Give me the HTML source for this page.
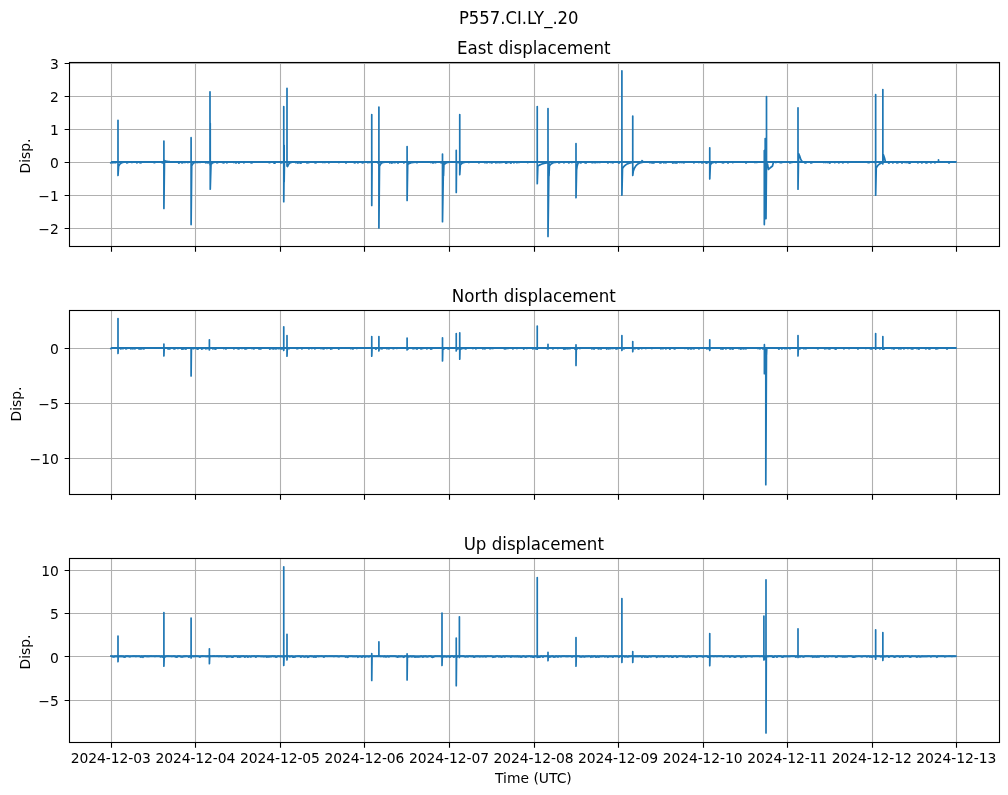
<!DOCTYPE html><html><head><meta charset="utf-8"><title>P557.CI.LY_.20</title><style>html,body{margin:0;padding:0;background:#fff;overflow:hidden}svg{display:block}text{font-family:"DejaVu Sans","Liberation Sans",sans-serif;fill:#000}</style></head><body>
<svg width="1008" height="795" viewBox="0 0 1008 795">
<rect width="1008" height="795" fill="#fff"/>
<text transform="translate(518.75 23.9) scale(0.988 1.08)" font-size="16.667" text-anchor="middle">P557.CI.LY_.20</text>
<path d="M111.5 62.5V246.5M195.5 62.5V246.5M280.5 62.5V246.5M364.5 62.5V246.5M449.5 62.5V246.5M534.5 62.5V246.5M618.5 62.5V246.5M703.5 62.5V246.5M787.5 62.5V246.5M872.5 62.5V246.5M956.5 62.5V246.5M69.5 63.5H999.5M69.5 96.5H999.5M69.5 129.5H999.5M69.5 162.5H999.5M69.5 195.5H999.5M69.5 228.5H999.5" stroke="#b0b0b0" stroke-width="1.11" fill="none"/>
<path d="M111.3 162.0H955.8" stroke="#1f77b4" stroke-width="1.9" fill="none"/>
<path d="M110.90 162.89 111.90 161.87 112.90 162.80 113.90 161.86 114.90 162.75 115.90 162.63 116.90 162.04 118.00 162.00 118.00 120.30 118.01 175.50 118.60 166.50 119.10 165.41 119.60 164.58 120.10 163.96 120.60 163.48 121.10 163.12 121.60 162.85 122.10 162.64 122.60 162.49 123.10 162.37 123.60 162.28 124.10 162.21 124.60 162.16 125.90 162.02 126.90 163.02 127.90 162.57 128.90 161.94 129.90 161.90 130.90 162.04 131.90 162.54 132.90 161.91 133.90 161.98 134.90 162.03 135.90 161.94 136.90 162.84 137.90 162.01 138.90 162.07 139.90 162.75 140.90 162.79 141.90 161.86 142.90 162.08 143.90 162.11 144.90 162.06 145.90 162.02 146.90 162.10 147.90 161.99 148.90 161.87 149.90 162.04 150.90 162.10 151.90 161.97 152.90 161.86 153.90 162.54 154.90 162.65 155.90 161.97 156.90 161.87 157.90 162.01 158.90 162.10 159.90 161.93 160.90 161.96 161.90 162.61 162.90 162.79 163.90 162.00 163.90 141.00 163.91 208.40 164.50 160.50 165.00 160.73 165.50 160.93 166.00 161.09 166.50 161.23 167.00 161.35 167.50 161.45 168.00 161.53 168.50 161.60 169.00 161.67 169.50 161.72 170.00 161.76 170.50 161.80 171.00 161.83 171.50 161.85 172.00 161.88 172.50 161.90 173.90 162.03 174.90 161.85 175.90 161.96 176.90 162.14 177.90 162.00 178.90 163.04 179.90 162.08 180.90 162.09 181.90 162.88 182.90 162.63 183.90 161.90 184.90 162.59 185.90 161.88 186.90 161.86 187.90 162.65 188.90 161.95 189.90 161.89 191.10 162.00 191.10 137.70 191.11 224.60 191.70 166.00 192.20 164.87 192.70 164.05 193.20 163.47 193.70 163.05 194.20 162.76 194.70 162.54 195.20 162.39 195.70 162.28 196.90 162.15 197.90 162.56 198.90 161.95 199.90 162.51 200.90 162.14 201.90 161.89 202.90 161.86 203.90 162.14 204.90 162.06 205.90 162.96 206.90 162.01 207.90 162.99 208.90 162.15 210.00 162.00 210.00 91.85 210.01 165.00 210.25 162.00 210.25 123.30 210.26 189.25 211.00 164.50 211.50 163.79 212.00 163.28 212.50 162.92 213.00 162.66 213.50 162.47 214.00 162.34 214.50 162.24 215.00 162.17 215.90 162.09 216.90 162.81 217.90 162.52 218.90 161.93 219.90 162.06 220.90 161.98 221.90 162.15 222.90 162.64 223.90 162.87 224.90 162.12 225.90 161.99 226.90 162.90 227.90 162.12 228.90 162.08 229.90 161.90 230.90 161.95 231.90 162.14 232.90 161.97 233.90 162.58 234.90 161.90 235.90 163.00 236.90 162.14 237.90 161.96 238.90 163.08 239.90 162.04 240.90 162.13 241.90 162.11 242.90 161.91 243.90 162.85 244.90 161.93 245.90 161.89 246.90 161.96 247.90 162.03 248.90 161.98 249.90 162.00 250.90 162.76 251.90 162.98 252.90 161.90 253.90 162.07 254.90 161.95 255.90 162.02 256.90 161.88 257.90 161.92 258.90 162.08 259.90 162.02 260.90 162.12 261.90 162.03 262.90 162.00 263.90 161.99 264.90 161.99 265.90 162.06 266.90 162.13 267.90 162.02 268.90 162.57 269.90 162.64 270.90 161.87 271.90 162.09 272.90 161.90 273.90 163.03 274.90 163.07 275.90 161.97 276.90 162.15 277.90 161.90 278.90 162.00 279.90 161.91 280.90 162.83 281.90 162.70 282.90 162.04 283.75 162.00 283.75 106.60 283.76 201.75 284.15 162.00 284.15 145.30 284.16 181.80 284.45 162.00 284.90 161.87 285.90 162.09 287.00 162.00 287.00 88.35 287.01 166.00 287.60 166.50 288.10 165.22 288.60 164.31 289.10 163.66 289.60 163.19 290.10 162.85 290.60 162.61 291.10 162.44 291.60 162.31 292.10 162.22 292.60 162.16 293.90 161.88 294.90 161.86 295.90 162.75 296.90 162.12 297.90 163.05 298.90 162.02 299.90 162.91 300.90 163.06 301.90 162.04 302.90 161.88 303.90 161.87 304.90 161.99 305.90 162.02 306.90 162.82 307.90 162.60 308.90 162.69 309.90 161.94 310.90 161.94 311.90 161.90 312.90 161.86 313.90 161.85 314.90 162.78 315.90 162.99 316.90 161.98 317.90 162.10 318.90 162.00 319.90 162.14 320.90 162.10 321.90 162.04 322.90 162.58 323.90 161.87 324.90 162.55 325.90 162.10 326.90 162.05 327.90 161.92 328.90 162.77 329.90 161.93 330.90 162.14 331.90 161.92 332.90 161.94 333.90 161.85 334.90 161.99 335.90 161.91 336.90 161.85 337.90 161.88 338.90 162.68 339.90 161.92 340.90 162.01 341.90 162.05 342.90 162.11 343.90 161.95 344.90 161.89 345.90 163.00 346.90 162.12 347.90 162.07 348.90 161.89 349.90 162.00 350.90 162.09 351.90 162.03 352.90 162.05 353.90 162.58 354.90 163.00 355.90 162.02 356.90 162.04 357.90 162.98 358.90 162.07 359.90 162.01 360.90 161.87 361.90 162.66 362.90 162.94 363.90 162.14 364.90 161.96 365.90 162.06 366.90 162.04 367.90 162.65 368.90 162.07 369.90 162.54 370.90 161.93 371.75 162.00 371.75 114.60 371.76 205.50 372.05 162.00 372.90 162.06 373.90 161.94 374.90 161.99 375.90 161.89 376.90 161.91 377.90 162.78 378.90 162.00 378.90 107.10 378.91 228.00 379.50 166.50 380.00 165.22 380.50 164.31 381.00 163.66 381.50 163.19 382.00 162.85 382.50 162.61 383.00 162.44 383.50 162.31 384.90 162.10 385.90 161.98 386.90 161.91 387.90 161.91 388.90 161.89 389.90 162.99 390.90 162.00 391.90 163.04 392.90 162.50 393.90 162.00 394.90 162.71 395.90 161.94 396.90 161.85 397.90 163.06 398.90 162.06 399.90 161.94 400.90 161.97 401.90 162.03 402.90 161.98 403.90 163.00 404.90 161.94 405.90 161.92 407.10 162.00 407.10 146.60 407.11 200.50 407.70 164.50 408.20 164.12 408.70 163.79 409.20 163.52 409.70 163.28 410.20 163.09 410.70 162.92 411.20 162.78 411.70 162.66 412.20 162.56 412.70 162.47 413.20 162.40 413.70 162.34 414.20 162.29 414.70 162.24 415.20 162.21 415.70 162.17 416.90 162.72 417.90 162.14 418.90 162.09 419.90 162.12 420.90 162.01 421.90 161.86 422.90 161.99 423.90 162.04 424.90 161.86 425.90 161.89 426.90 161.95 427.90 162.07 428.90 161.93 429.90 161.94 430.90 162.60 431.90 161.91 432.90 163.04 433.90 162.15 434.90 162.55 435.90 162.64 436.90 161.93 437.90 162.12 438.90 161.97 439.90 162.01 440.90 162.67 441.90 162.80 442.50 162.00 442.50 154.10 442.51 221.75 443.50 162.00 443.50 162.60 443.51 176.00 443.90 165.00 444.40 164.34 444.90 163.82 445.40 163.42 445.90 163.10 446.40 162.86 446.90 162.67 447.40 162.52 447.90 162.41 448.40 162.32 448.90 162.25 449.40 162.19 449.90 162.15 450.90 162.04 451.90 161.91 452.90 161.92 453.90 161.98 454.90 162.10 456.25 162.00 456.25 150.35 456.26 192.50 456.55 162.00 456.90 162.93 457.90 162.12 458.90 162.73 459.75 162.00 459.75 114.60 459.76 174.75 460.35 165.00 460.85 164.34 461.35 163.82 461.85 163.42 462.35 163.10 462.85 162.86 463.35 162.67 463.85 162.52 464.35 162.41 464.85 162.32 465.35 162.25 465.85 162.19 466.35 162.15 466.90 162.13 467.90 162.11 468.90 162.59 469.90 162.01 470.90 162.13 471.90 162.04 472.90 161.99 473.90 161.86 474.90 161.92 475.90 162.04 476.90 161.89 477.90 162.04 478.90 162.81 479.90 162.02 480.90 161.92 481.90 161.85 482.90 161.99 483.90 162.04 484.90 162.65 485.90 162.14 486.90 162.80 487.90 162.05 488.90 161.93 489.90 162.52 490.90 161.95 491.90 162.98 492.90 162.07 493.90 161.91 494.90 161.94 495.90 162.96 496.90 161.94 497.90 162.63 498.90 161.98 499.90 162.74 500.90 161.91 501.90 162.54 502.90 161.97 503.90 162.12 504.90 162.15 505.90 163.06 506.90 162.90 507.90 161.96 508.90 162.50 509.90 161.93 510.90 163.08 511.90 161.91 512.90 162.10 513.90 162.78 514.90 161.96 515.90 161.91 516.90 162.75 517.90 162.09 518.90 162.54 519.90 162.13 520.90 162.07 521.90 161.95 522.90 162.14 523.90 161.93 524.90 161.94 525.90 161.85 526.90 162.12 527.90 162.64 528.90 161.99 529.90 162.14 530.90 161.93 531.90 162.00 532.90 161.90 533.90 162.07 534.90 162.08 535.90 161.95 537.25 162.00 537.25 106.60 537.26 183.70 537.85 166.00 538.35 165.68 538.85 165.39 539.35 165.12 539.85 164.87 540.35 164.64 540.85 164.43 541.35 164.23 541.85 164.05 542.35 163.89 542.85 163.74 543.35 163.60 543.85 163.47 544.35 163.35 544.85 163.25 545.35 163.15 545.85 163.05 546.35 162.97 546.85 162.89 547.35 162.82 547.85 162.76 548.00 162.00 548.00 108.60 548.01 236.50 549.00 162.00 549.00 162.60 549.01 176.00 549.40 166.00 549.90 165.27 550.40 164.68 550.90 164.20 551.40 163.80 551.90 163.47 552.40 163.20 552.90 162.99 553.40 162.81 553.90 162.66 554.40 162.54 554.90 162.44 555.40 162.36 555.90 162.30 556.40 162.24 556.90 162.20 557.40 162.16 557.90 161.96 558.90 162.95 559.90 162.52 560.90 162.02 561.90 162.14 562.90 162.15 563.90 162.80 564.90 162.06 565.90 161.92 566.90 162.04 567.90 162.07 568.90 163.00 569.90 161.94 570.90 161.96 571.90 162.65 572.90 161.90 573.90 162.02 574.90 161.97 576.00 162.00 576.00 143.60 576.01 197.75 576.60 170.00 577.10 166.28 577.60 164.29 578.10 163.23 578.60 162.66 579.10 162.35 579.60 162.19 580.90 162.99 581.90 162.05 582.90 161.88 583.90 162.10 584.90 162.68 585.90 163.08 586.90 162.02 587.90 161.96 588.90 161.98 589.90 162.08 590.90 161.88 591.90 162.72 592.90 162.65 593.90 162.03 594.90 162.70 595.90 162.69 596.90 161.91 597.90 162.56 598.90 161.97 599.90 162.60 600.90 162.06 601.90 161.93 602.90 162.14 603.90 162.02 604.90 161.97 605.90 162.15 606.90 161.91 607.90 163.04 608.90 161.98 609.90 161.97 610.90 162.51 611.90 162.02 612.90 162.87 613.90 161.96 614.90 161.89 615.90 162.01 616.90 161.88 617.90 162.09 618.90 163.07 619.90 162.14 620.90 161.87 621.90 162.00 621.90 70.85 621.91 195.25 622.50 168.50 623.01 167.71 623.53 167.02 624.04 166.42 624.56 165.88 625.08 165.41 625.59 165.00 626.11 164.64 626.62 164.32 627.13 164.04 627.65 163.79 628.16 163.58 628.68 163.39 629.20 163.22 629.71 163.07 630.23 162.94 630.74 162.83 631.25 162.73 631.77 162.64 632.28 162.56 632.80 162.49 632.75 162.00 632.75 116.10 632.76 175.50 633.35 171.00 633.85 169.62 634.35 168.45 634.85 167.46 635.35 166.62 635.85 165.91 636.35 165.31 636.85 164.80 637.35 164.37 637.85 164.01 638.35 163.70 638.85 163.44 639.35 163.22 639.85 163.03 640.35 162.87 640.85 162.74 641.35 162.63 641.85 162.53 642.35 162.45 642.00 160.60 643.50 162.00 644.90 161.97 645.90 162.04 646.90 161.90 647.90 161.92 648.90 162.10 649.90 162.74 650.90 162.01 651.90 162.93 652.90 162.84 653.90 163.00 654.90 161.89 655.90 162.02 656.90 161.94 657.90 162.02 658.90 162.05 659.90 162.87 660.90 162.96 661.90 162.08 662.90 161.90 663.90 162.76 664.90 161.88 665.90 162.88 666.90 161.87 667.90 162.08 668.90 161.87 669.90 161.96 670.90 161.89 671.90 162.15 672.90 163.09 673.90 162.00 674.90 162.97 675.90 162.71 676.90 163.04 677.90 161.93 678.90 161.89 679.90 162.66 680.90 162.00 681.90 162.60 682.90 162.13 683.90 162.97 684.90 161.88 685.90 162.04 686.90 162.11 687.90 162.02 688.90 161.88 689.90 162.04 690.90 162.09 691.90 162.15 692.90 161.96 693.90 162.95 694.90 161.86 695.90 161.93 696.90 162.15 697.90 162.05 698.90 162.59 699.90 162.03 700.90 162.00 701.90 162.89 702.90 162.71 703.90 161.88 704.90 161.92 705.90 162.87 706.90 163.06 707.90 162.56 708.90 162.04 709.75 162.00 709.75 147.85 709.76 179.00 710.35 165.00 710.85 164.15 711.35 163.54 711.85 163.10 712.35 162.79 712.85 162.57 713.35 162.41 713.85 162.29 714.35 162.21 714.90 162.08 715.90 162.89 716.90 162.02 717.90 162.04 718.90 162.13 719.90 161.92 720.90 161.86 721.90 162.54 722.90 162.83 723.90 162.62 724.90 162.03 725.90 162.04 726.90 161.90 727.90 163.03 728.90 162.08 729.90 161.85 730.90 162.07 731.90 162.07 732.90 162.64 733.90 161.86 734.90 162.07 735.90 162.10 736.90 161.93 737.90 161.98 738.90 162.01 739.90 162.04 740.90 161.92 741.90 161.85 742.90 161.92 743.90 162.13 744.90 161.95 745.90 163.04 746.90 162.04 747.90 162.05 748.90 161.99 749.90 162.06 750.90 161.98 751.90 162.02 752.90 161.91 753.90 161.87 754.90 162.56 755.90 162.13 756.90 162.52 757.90 162.06 758.90 162.06 759.90 161.87 760.90 161.96 761.90 162.10 762.90 161.87 764.30 162.00 764.30 150.60 764.31 224.60 765.20 162.00 765.20 138.60 765.21 218.60 766.00 162.00 766.00 150.60 766.01 218.60 766.50 162.00 766.50 96.60 766.51 165.00 767.50 164.00 768.50 169.50 770.00 168.00 772.50 166.00 773.50 162.00 774.90 162.12 775.90 162.57 776.90 161.86 777.90 162.09 778.90 162.10 779.90 162.56 780.90 162.69 781.90 162.65 782.90 161.93 783.90 161.96 784.90 162.14 785.90 162.11 786.90 161.86 787.90 161.98 788.90 161.95 789.90 163.02 790.90 161.88 791.90 162.62 792.90 162.08 793.90 161.85 794.90 162.00 795.90 161.91 796.90 161.95 798.00 162.00 798.00 107.85 798.01 189.25 798.60 153.50 799.50 155.50 800.80 159.50 802.50 162.00 803.90 161.93 804.90 162.92 805.90 162.88 806.90 161.87 807.90 162.06 808.90 162.04 809.90 161.97 810.90 163.03 811.90 162.66 812.90 162.12 813.90 161.96 814.90 161.92 815.90 162.01 816.90 162.08 817.90 161.95 818.90 161.90 819.90 162.05 820.90 161.90 821.90 162.08 822.90 161.89 823.90 162.61 824.90 161.94 825.90 162.59 826.90 161.92 827.90 162.70 828.90 161.91 829.90 163.08 830.90 161.88 831.90 162.15 832.90 162.07 833.90 161.91 834.90 162.73 835.90 161.86 836.90 162.09 837.90 162.00 838.90 162.86 839.90 161.97 840.90 162.12 841.90 162.02 842.90 162.93 843.90 162.11 844.90 162.06 845.90 162.05 846.90 161.99 847.90 162.75 848.90 162.08 849.90 162.04 850.90 161.98 851.90 162.04 852.90 162.05 853.90 161.90 854.90 162.08 855.90 162.00 856.90 161.86 857.90 161.90 858.90 162.13 859.90 161.88 860.90 162.01 861.90 162.00 862.90 162.10 863.90 161.97 864.90 161.91 865.90 161.97 866.90 161.89 867.90 162.66 868.90 162.75 869.90 161.98 870.90 161.96 871.90 161.92 872.90 162.13 873.90 161.92 874.90 162.58 875.65 162.00 875.65 94.60 875.66 195.25 876.25 168.00 876.78 167.02 877.32 166.20 877.85 165.52 878.38 164.95 878.92 164.47 879.45 164.06 879.98 163.73 880.52 163.45 881.05 163.21 881.58 163.01 882.12 162.85 882.65 162.71 882.85 162.00 882.85 89.60 882.86 164.00 883.40 154.70 884.50 158.00 885.50 162.00 886.90 162.08 887.90 162.04 888.90 163.08 889.90 161.96 890.90 162.10 891.90 161.99 892.90 163.00 893.90 161.96 894.90 161.93 895.90 161.93 896.90 162.93 897.90 162.68 898.90 161.99 899.90 162.04 900.90 161.96 901.90 163.00 902.90 162.12 903.90 161.89 904.90 162.51 905.90 162.14 906.90 162.59 907.90 161.92 908.90 163.04 909.90 163.03 910.90 162.03 911.90 162.05 912.90 162.09 913.90 161.91 914.90 162.01 915.90 161.98 916.90 162.02 917.90 162.80 918.90 161.87 919.90 161.89 920.90 162.00 921.90 163.00 922.90 161.99 923.90 162.05 924.90 161.96 925.90 162.88 926.90 162.87 927.90 162.05 928.90 161.95 929.90 162.00 930.90 162.93 931.90 162.04 932.90 162.11 933.90 161.99 934.90 162.76 935.90 161.98 936.90 162.10 937.90 162.10 938.50 162.00 938.50 159.85 938.51 162.00 938.80 162.00 939.90 162.00 940.90 162.00 941.90 162.05 942.90 161.95 943.90 161.94 944.90 162.04 945.90 161.86 946.90 162.12 947.90 161.86 948.90 163.05 949.90 162.03 950.90 162.09 951.90 162.03 952.90 162.04 953.90 162.03 954.90 161.91 955.90 161.99" stroke="#1f77b4" stroke-width="1.7" fill="none" stroke-linejoin="round" stroke-linecap="square"/>
<rect x="69.5" y="62.5" width="930.0" height="184.0" fill="none" stroke="#000" stroke-width="1.11"/>
<path d="M111.5 246.5V251.7M195.5 246.5V251.7M280.5 246.5V251.7M364.5 246.5V251.7M449.5 246.5V251.7M534.5 246.5V251.7M618.5 246.5V251.7M703.5 246.5V251.7M787.5 246.5V251.7M872.5 246.5V251.7M956.5 246.5V251.7M69.5 63.5H64.64M69.5 96.5H64.64M69.5 129.5H64.64M69.5 162.5H64.64M69.5 195.5H64.64M69.5 228.5H64.64" stroke="#000" stroke-width="1.11" fill="none"/>
<text x="58.8" y="69.00" font-size="13.889" text-anchor="end">3</text>
<text x="58.8" y="102.00" font-size="13.889" text-anchor="end">2</text>
<text x="58.8" y="135.00" font-size="13.889" text-anchor="end">1</text>
<text x="58.8" y="168.00" font-size="13.889" text-anchor="end">0</text>
<text x="58.8" y="201.00" font-size="13.889" text-anchor="end">−1</text>
<text x="58.8" y="234.00" font-size="13.889" text-anchor="end">−2</text>
<text transform="translate(533.8 54.25) scale(1 1.08)" font-size="16.667" text-anchor="middle">East displacement</text>
<text transform="translate(30.3 156.0) rotate(-90)" font-size="13.889" text-anchor="middle">Disp.</text>
<path d="M111.5 310.5V494.5M195.5 310.5V494.5M280.5 310.5V494.5M364.5 310.5V494.5M449.5 310.5V494.5M534.5 310.5V494.5M618.5 310.5V494.5M703.5 310.5V494.5M787.5 310.5V494.5M872.5 310.5V494.5M956.5 310.5V494.5M69.5 348.5H999.5M69.5 403.5H999.5M69.5 458.5H999.5" stroke="#b0b0b0" stroke-width="1.11" fill="none"/>
<path d="M111.3 348.0H955.8" stroke="#1f77b4" stroke-width="1.9" fill="none"/>
<path d="M110.90 348.52 111.90 348.08 112.90 348.05 113.90 348.10 114.90 348.02 115.90 347.94 116.90 347.95 118.00 348.00 118.00 318.60 118.01 353.50 118.30 348.00 118.90 348.04 119.90 347.87 120.90 348.99 121.90 348.02 122.90 348.73 123.90 348.03 124.90 348.14 125.90 348.89 126.90 348.51 127.90 347.85 128.90 347.89 129.90 347.88 130.90 348.93 131.90 347.92 132.90 348.96 133.90 348.06 134.90 348.88 135.90 348.06 136.90 348.13 137.90 348.14 138.90 348.89 139.90 348.69 140.90 349.02 141.90 348.72 142.90 348.02 143.90 348.98 144.90 347.96 145.90 348.04 146.90 347.97 147.90 348.13 148.90 348.02 149.90 347.87 150.90 348.06 151.90 347.95 152.90 348.14 153.90 348.03 154.90 347.98 155.90 347.96 156.90 348.03 157.90 348.09 158.90 347.85 159.90 347.98 160.90 348.09 161.90 347.86 162.90 348.09 163.90 348.00 163.90 344.10 163.91 356.00 164.20 348.00 164.90 348.02 165.90 348.11 166.90 348.06 167.90 348.83 168.90 348.95 169.90 348.86 170.90 348.05 171.90 347.91 172.90 348.08 173.90 348.98 174.90 348.85 175.90 348.12 176.90 348.01 177.90 348.62 178.90 347.90 179.90 347.96 180.90 347.97 181.90 349.10 182.90 348.88 183.90 348.86 184.90 347.95 185.90 349.09 186.90 348.11 187.90 348.02 188.90 348.08 189.90 348.13 191.10 348.00 191.10 348.60 191.11 376.00 191.40 348.00 191.90 348.10 192.90 348.62 193.90 348.53 194.90 348.02 195.90 347.99 196.90 348.86 197.90 349.08 198.90 347.93 199.90 348.04 200.90 348.05 201.90 349.08 202.90 348.52 203.90 347.93 204.90 348.12 205.90 348.97 206.90 348.06 207.90 348.59 208.90 348.08 209.40 348.00 209.40 339.85 209.41 350.00 209.70 348.00 209.90 348.05 210.90 348.03 211.90 347.88 212.90 348.79 213.90 348.59 214.90 348.93 215.90 349.06 216.90 347.92 217.90 348.11 218.90 347.89 219.90 347.88 220.90 348.10 221.90 347.99 222.90 348.10 223.90 348.63 224.90 347.87 225.90 349.02 226.90 347.93 227.90 347.90 228.90 348.10 229.90 347.90 230.90 347.95 231.90 347.88 232.90 347.87 233.90 348.79 234.90 347.94 235.90 347.91 236.90 348.15 237.90 348.67 238.90 348.94 239.90 347.94 240.90 347.85 241.90 348.50 242.90 348.10 243.90 347.91 244.90 348.84 245.90 348.96 246.90 348.55 247.90 347.88 248.90 348.00 249.90 347.91 250.90 348.06 251.90 348.54 252.90 348.07 253.90 348.99 254.90 347.95 255.90 348.11 256.90 347.85 257.90 347.99 258.90 349.00 259.90 348.72 260.90 348.81 261.90 347.98 262.90 347.89 263.90 348.09 264.90 347.95 265.90 347.96 266.90 347.87 267.90 348.14 268.90 348.00 269.90 349.08 270.90 348.56 271.90 347.93 272.90 348.92 273.90 348.86 274.90 348.02 275.90 349.02 276.90 348.57 277.90 348.00 278.90 348.74 279.90 347.89 280.90 348.84 281.90 349.00 282.90 348.13 283.75 348.00 283.75 326.85 283.76 350.50 284.05 348.00 284.90 347.98 285.90 348.01 287.00 348.00 287.00 335.60 287.01 356.25 287.30 348.00 287.90 348.13 288.90 348.70 289.90 347.98 290.90 348.09 291.90 348.09 292.90 347.87 293.90 348.14 294.90 347.92 295.90 348.04 296.90 348.76 297.90 348.58 298.90 348.14 299.90 348.13 300.90 348.09 301.90 348.88 302.90 347.93 303.90 347.93 304.90 348.13 305.90 347.93 306.90 347.98 307.90 347.94 308.90 348.86 309.90 348.14 310.90 347.93 311.90 348.57 312.90 347.89 313.90 347.97 314.90 348.83 315.90 348.10 316.90 348.02 317.90 347.91 318.90 347.99 319.90 348.03 320.90 348.63 321.90 348.00 322.90 348.71 323.90 348.83 324.90 348.00 325.90 348.15 326.90 348.54 327.90 348.11 328.90 347.87 329.90 347.98 330.90 349.08 331.90 348.70 332.90 347.96 333.90 348.03 334.90 348.10 335.90 348.07 336.90 348.08 337.90 348.09 338.90 349.02 339.90 347.85 340.90 348.03 341.90 348.14 342.90 347.98 343.90 348.11 344.90 347.96 345.90 347.99 346.90 347.94 347.90 348.02 348.90 347.95 349.90 348.10 350.90 348.68 351.90 347.89 352.90 349.05 353.90 347.95 354.90 348.10 355.90 347.91 356.90 348.53 357.90 348.02 358.90 348.13 359.90 348.01 360.90 348.01 361.90 348.06 362.90 347.96 363.90 347.96 364.90 348.05 365.90 347.88 366.90 347.97 367.90 348.02 368.90 348.14 369.90 347.98 370.90 348.15 371.75 348.00 371.75 336.60 371.76 356.25 372.05 348.00 372.90 348.01 373.90 347.90 374.90 348.14 375.90 349.04 376.90 348.06 377.90 348.15 378.90 348.00 378.90 336.60 378.91 351.00 379.20 348.00 379.90 348.67 380.90 348.00 381.90 348.88 382.90 348.03 383.90 348.15 384.90 347.86 385.90 348.09 386.90 348.68 387.90 348.10 388.90 348.80 389.90 348.02 390.90 348.04 391.90 348.15 392.90 348.59 393.90 348.56 394.90 347.90 395.90 348.10 396.90 348.51 397.90 348.08 398.90 348.06 399.90 347.90 400.90 347.88 401.90 348.02 402.90 347.98 403.90 347.87 404.90 348.02 405.90 347.98 407.10 348.00 407.10 338.10 407.11 350.00 407.40 348.00 407.90 349.06 408.90 348.11 409.90 348.12 410.90 347.94 411.90 348.14 412.90 348.73 413.90 348.69 414.90 348.11 415.90 348.60 416.90 349.08 417.90 347.94 418.90 347.88 419.90 347.97 420.90 349.00 421.90 348.61 422.90 348.52 423.90 348.05 424.90 347.90 425.90 347.88 426.90 348.77 427.90 348.10 428.90 347.90 429.90 348.07 430.90 349.07 431.90 348.77 432.90 347.89 433.90 347.93 434.90 348.03 435.90 347.92 436.90 347.91 437.90 347.89 438.90 348.01 439.90 348.08 440.90 348.05 441.90 347.94 442.50 348.00 442.50 337.85 442.51 361.00 442.80 348.00 443.90 349.01 444.90 347.95 445.90 347.88 446.90 347.96 447.90 348.69 448.90 348.93 449.90 347.93 450.90 348.12 451.90 348.11 452.90 347.89 453.90 347.86 454.90 348.05 456.25 348.00 456.25 333.60 456.26 351.00 456.55 348.00 456.90 347.97 457.90 349.01 458.90 347.96 459.75 348.00 459.75 332.85 459.76 359.25 460.05 348.00 460.90 349.05 461.90 348.07 462.90 348.60 463.90 347.91 464.90 348.69 465.90 349.00 466.90 348.02 467.90 347.93 468.90 348.06 469.90 347.85 470.90 348.08 471.90 347.86 472.90 348.65 473.90 347.88 474.90 347.91 475.90 348.92 476.90 347.97 477.90 348.10 478.90 347.88 479.90 347.98 480.90 348.06 481.90 348.10 482.90 348.92 483.90 347.98 484.90 348.96 485.90 347.86 486.90 348.09 487.90 348.01 488.90 348.04 489.90 348.71 490.90 348.69 491.90 347.89 492.90 348.65 493.90 348.00 494.90 348.13 495.90 347.94 496.90 347.89 497.90 347.95 498.90 348.01 499.90 347.90 500.90 348.03 501.90 348.08 502.90 347.88 503.90 348.54 504.90 348.92 505.90 348.69 506.90 347.99 507.90 348.51 508.90 348.15 509.90 347.88 510.90 348.14 511.90 347.88 512.90 348.83 513.90 347.85 514.90 348.04 515.90 348.13 516.90 348.58 517.90 347.86 518.90 348.10 519.90 347.91 520.90 348.10 521.90 347.90 522.90 348.10 523.90 349.00 524.90 347.95 525.90 348.02 526.90 348.52 527.90 348.02 528.90 348.10 529.90 348.12 530.90 348.00 531.90 347.90 532.90 348.91 533.90 347.90 534.90 348.52 535.90 348.93 537.25 348.00 537.25 326.10 537.26 349.25 537.55 348.00 537.90 347.85 538.90 348.11 539.90 347.98 540.90 348.05 541.90 347.98 542.90 347.98 543.90 348.10 544.90 347.90 545.90 347.98 546.90 348.55 548.00 348.00 548.00 344.35 548.01 349.00 548.30 348.00 548.90 347.95 549.90 348.14 550.90 348.11 551.90 348.14 552.90 348.91 553.90 348.03 554.90 348.02 555.90 347.99 556.90 347.94 557.90 348.61 558.90 348.05 559.90 347.88 560.90 347.96 561.90 347.97 562.90 348.02 563.90 349.03 564.90 349.02 565.90 348.82 566.90 347.93 567.90 348.84 568.90 347.88 569.90 348.74 570.90 347.87 571.90 348.11 572.90 348.06 573.90 347.88 574.90 349.00 576.00 348.00 576.00 344.85 576.01 365.50 576.30 348.00 576.90 349.08 577.90 348.02 578.90 347.89 579.90 348.72 580.90 347.85 581.90 347.91 582.90 348.06 583.90 348.12 584.90 348.11 585.90 348.13 586.90 347.90 587.90 347.95 588.90 348.05 589.90 347.89 590.90 348.07 591.90 348.86 592.90 347.88 593.90 349.06 594.90 348.05 595.90 347.91 596.90 348.10 597.90 348.57 598.90 348.83 599.90 347.94 600.90 349.03 601.90 348.01 602.90 348.09 603.90 347.85 604.90 347.90 605.90 348.11 606.90 348.99 607.90 348.05 608.90 349.01 609.90 347.97 610.90 348.70 611.90 347.91 612.90 348.60 613.90 347.96 614.90 348.02 615.90 348.85 616.90 348.78 617.90 348.59 618.90 348.05 619.90 347.93 620.90 347.93 621.90 348.00 621.90 335.60 621.91 350.50 622.20 348.00 622.90 348.01 623.90 348.84 624.90 348.08 625.90 348.08 626.90 348.04 627.90 347.93 628.90 348.11 629.90 348.05 630.90 348.08 631.90 348.00 632.75 348.00 632.75 341.60 632.76 351.75 633.05 348.00 633.90 347.96 634.90 348.70 635.90 347.95 636.90 347.99 637.90 348.71 638.90 349.02 639.90 347.99 640.90 348.02 641.90 348.68 642.90 347.94 643.90 348.02 644.90 347.95 645.90 348.61 646.90 348.02 647.90 347.96 648.90 347.98 649.90 347.87 650.90 348.12 651.90 348.60 652.90 347.93 653.90 347.92 654.90 347.91 655.90 348.11 656.90 347.91 657.90 348.14 658.90 347.87 659.90 348.11 660.90 348.82 661.90 348.11 662.90 348.70 663.90 348.07 664.90 347.97 665.90 348.75 666.90 347.86 667.90 347.95 668.90 348.03 669.90 349.06 670.90 348.02 671.90 347.87 672.90 348.07 673.90 348.59 674.90 348.99 675.90 347.98 676.90 348.03 677.90 348.05 678.90 347.95 679.90 347.93 680.90 348.08 681.90 347.94 682.90 348.14 683.90 347.93 684.90 348.51 685.90 347.99 686.90 348.08 687.90 348.95 688.90 348.58 689.90 347.87 690.90 349.06 691.90 348.61 692.90 348.07 693.90 348.97 694.90 347.92 695.90 348.00 696.90 347.95 697.90 347.99 698.90 348.94 699.90 347.87 700.90 347.97 701.90 347.87 702.90 347.97 703.90 348.13 704.90 347.92 705.90 347.93 706.90 348.96 707.90 348.04 708.90 348.84 709.75 348.00 709.75 339.85 709.76 350.50 710.05 348.00 710.90 347.90 711.90 348.11 712.90 348.08 713.90 347.93 714.90 348.00 715.90 347.90 716.90 348.03 717.90 348.02 718.90 347.91 719.90 347.96 720.90 349.02 721.90 348.15 722.90 349.08 723.90 347.85 724.90 347.90 725.90 348.91 726.90 347.88 727.90 348.13 728.90 348.11 729.90 348.98 730.90 348.80 731.90 347.92 732.90 349.09 733.90 347.94 734.90 347.89 735.90 347.89 736.90 347.90 737.90 347.89 738.90 348.71 739.90 348.00 740.90 349.08 741.90 348.11 742.90 348.66 743.90 348.81 744.90 347.97 745.90 348.91 746.90 348.05 747.90 348.01 748.90 348.14 749.90 348.07 750.90 347.95 751.90 348.14 752.90 347.97 753.90 347.89 754.90 347.85 755.90 348.13 756.90 348.03 757.90 348.57 758.90 348.10 759.90 348.92 760.90 347.95 761.90 348.01 762.90 348.95 763.90 348.11 764.40 348.00 764.40 344.70 764.41 373.70 765.00 348.00 765.00 348.60 765.01 373.50 765.80 348.00 765.80 348.60 765.81 484.75 766.50 348.00 766.50 348.60 766.51 355.00 766.80 348.00 767.90 348.03 768.90 347.92 769.90 348.07 770.90 348.06 771.90 348.01 772.90 348.05 773.90 348.04 774.90 347.92 775.90 347.93 776.90 347.99 777.90 348.01 778.90 349.06 779.90 348.01 780.90 348.01 781.90 348.99 782.90 347.99 783.90 348.10 784.90 348.73 785.90 348.10 786.90 348.65 787.90 347.88 788.90 348.09 789.90 348.74 790.90 348.15 791.90 347.98 792.90 348.09 793.90 347.89 794.90 347.96 795.90 347.92 796.90 347.95 798.00 348.00 798.00 335.60 798.01 356.00 798.30 348.00 798.90 348.84 799.90 348.93 800.90 347.93 801.90 347.92 802.90 347.88 803.90 348.75 804.90 348.09 805.90 348.77 806.90 347.96 807.90 347.94 808.90 348.04 809.90 347.96 810.90 348.02 811.90 347.91 812.90 348.06 813.90 348.05 814.90 347.87 815.90 347.96 816.90 348.00 817.90 348.86 818.90 347.99 819.90 348.10 820.90 347.99 821.90 347.98 822.90 348.00 823.90 348.05 824.90 348.91 825.90 348.02 826.90 348.63 827.90 347.87 828.90 348.95 829.90 348.91 830.90 348.06 831.90 347.87 832.90 347.98 833.90 348.15 834.90 348.70 835.90 349.09 836.90 347.93 837.90 347.94 838.90 348.11 839.90 348.00 840.90 347.87 841.90 348.11 842.90 348.11 843.90 348.82 844.90 347.96 845.90 348.00 846.90 347.96 847.90 347.91 848.90 348.69 849.90 348.01 850.90 348.02 851.90 347.93 852.90 347.94 853.90 348.09 854.90 347.99 855.90 347.98 856.90 347.87 857.90 349.02 858.90 347.87 859.90 347.90 860.90 348.02 861.90 348.00 862.90 348.05 863.90 347.91 864.90 347.89 865.90 348.56 866.90 348.09 867.90 347.97 868.90 347.93 869.90 348.53 870.90 349.00 871.90 348.85 872.90 347.95 873.90 347.90 874.90 347.95 875.65 348.00 875.65 333.60 875.66 349.25 875.95 348.00 876.90 347.90 877.90 348.14 878.90 347.86 879.90 348.83 880.90 347.88 881.90 348.07 882.85 348.00 882.85 336.60 882.86 349.25 883.15 348.00 883.90 349.00 884.90 347.89 885.90 348.15 886.90 348.01 887.90 347.95 888.90 348.00 889.90 347.88 890.90 348.11 891.90 348.58 892.90 347.93 893.90 349.05 894.90 347.86 895.90 348.14 896.90 348.13 897.90 347.87 898.90 348.95 899.90 347.90 900.90 348.84 901.90 347.88 902.90 348.09 903.90 348.81 904.90 347.88 905.90 347.89 906.90 347.96 907.90 348.60 908.90 348.13 909.90 348.10 910.90 348.56 911.90 348.80 912.90 348.78 913.90 347.90 914.90 348.00 915.90 347.91 916.90 348.64 917.90 348.11 918.90 349.07 919.90 348.00 920.90 348.02 921.90 347.92 922.90 347.90 923.90 347.86 924.90 348.01 925.90 348.85 926.90 347.92 927.90 348.09 928.90 348.86 929.90 348.87 930.90 348.06 931.90 347.95 932.90 347.99 933.90 347.85 934.90 347.97 935.90 348.94 936.90 348.71 937.90 348.63 938.90 347.95 939.90 348.15 940.90 347.99 941.90 348.08 942.90 348.08 943.90 347.91 944.90 348.10 945.90 347.88 946.90 349.08 947.90 348.05 948.90 347.89 949.90 348.13 950.90 348.07 951.90 348.09 952.90 347.98 953.90 348.09 954.90 347.94 955.90 348.01" stroke="#1f77b4" stroke-width="1.7" fill="none" stroke-linejoin="round" stroke-linecap="square"/>
<rect x="69.5" y="310.5" width="930.0" height="184.0" fill="none" stroke="#000" stroke-width="1.11"/>
<path d="M111.5 494.5V499.7M195.5 494.5V499.7M280.5 494.5V499.7M364.5 494.5V499.7M449.5 494.5V499.7M534.5 494.5V499.7M618.5 494.5V499.7M703.5 494.5V499.7M787.5 494.5V499.7M872.5 494.5V499.7M956.5 494.5V499.7M69.5 348.5H64.64M69.5 403.5H64.64M69.5 458.5H64.64" stroke="#000" stroke-width="1.11" fill="none"/>
<text x="58.8" y="354.00" font-size="13.889" text-anchor="end">0</text>
<text x="58.8" y="409.00" font-size="13.889" text-anchor="end">−5</text>
<text x="58.8" y="464.00" font-size="13.889" text-anchor="end">−10</text>
<text transform="translate(533.8 302.25) scale(1 1.08)" font-size="16.667" text-anchor="middle">North displacement</text>
<text transform="translate(20.6 404.0) rotate(-90)" font-size="13.889" text-anchor="middle">Disp.</text>
<path d="M111.5 558.5V742.5M195.5 558.5V742.5M280.5 558.5V742.5M364.5 558.5V742.5M449.5 558.5V742.5M534.5 558.5V742.5M618.5 558.5V742.5M703.5 558.5V742.5M787.5 558.5V742.5M872.5 558.5V742.5M956.5 558.5V742.5M69.5 570.5H999.5M69.5 613.5H999.5M69.5 656.5H999.5M69.5 700.5H999.5" stroke="#b0b0b0" stroke-width="1.11" fill="none"/>
<path d="M111.3 656.2H955.8" stroke="#1f77b4" stroke-width="1.9" fill="none"/>
<path d="M110.90 656.08 111.90 656.29 112.90 656.82 113.90 657.00 114.90 656.32 115.90 656.26 116.90 656.29 118.00 656.20 118.00 636.10 118.01 661.75 118.30 656.20 118.90 656.25 119.90 656.30 120.90 656.08 121.90 656.30 122.90 656.23 123.90 656.99 124.90 657.19 125.90 656.18 126.90 656.19 127.90 656.11 128.90 656.30 129.90 656.86 130.90 656.26 131.90 656.25 132.90 656.09 133.90 656.06 134.90 656.11 135.90 656.34 136.90 656.12 137.90 656.23 138.90 656.17 139.90 656.34 140.90 657.20 141.90 656.10 142.90 657.27 143.90 656.19 144.90 656.13 145.90 656.08 146.90 656.31 147.90 656.16 148.90 656.32 149.90 656.07 150.90 656.18 151.90 656.16 152.90 656.24 153.90 656.21 154.90 656.32 155.90 656.16 156.90 656.07 157.90 656.26 158.90 656.18 159.90 656.32 160.90 656.90 161.90 656.09 162.90 657.05 163.90 656.20 163.90 612.60 163.91 666.25 164.20 656.20 164.90 656.94 165.90 656.27 166.90 656.13 167.90 656.14 168.90 656.18 169.90 656.24 170.90 656.25 171.90 656.34 172.90 656.26 173.90 656.10 174.90 656.30 175.90 657.01 176.90 657.14 177.90 656.10 178.90 656.07 179.90 656.16 180.90 656.89 181.90 656.89 182.90 656.86 183.90 656.17 184.90 656.34 185.90 656.11 186.90 656.19 187.90 656.24 188.90 657.15 189.90 656.19 191.10 656.20 191.10 618.10 191.11 658.00 191.40 656.20 191.90 656.25 192.90 656.13 193.90 656.33 194.90 656.14 195.90 656.13 196.90 656.06 197.90 656.22 198.90 656.33 199.90 657.03 200.90 656.28 201.90 656.17 202.90 656.08 203.90 656.24 204.90 656.24 205.90 656.28 206.90 656.33 207.90 656.15 208.90 656.29 209.40 656.20 209.40 648.85 209.41 663.75 209.70 656.20 209.90 656.11 210.90 656.21 211.90 656.25 212.90 656.09 213.90 656.07 214.90 656.20 215.90 656.25 216.90 656.17 217.90 656.13 218.90 656.29 219.90 656.10 220.90 656.28 221.90 656.32 222.90 656.27 223.90 656.24 224.90 656.09 225.90 656.26 226.90 657.06 227.90 656.30 228.90 656.76 229.90 656.25 230.90 656.29 231.90 657.20 232.90 657.08 233.90 656.09 234.90 656.07 235.90 656.22 236.90 656.06 237.90 657.08 238.90 656.15 239.90 657.18 240.90 656.11 241.90 656.29 242.90 656.06 243.90 656.06 244.90 657.08 245.90 656.27 246.90 656.17 247.90 657.22 248.90 656.35 249.90 656.34 250.90 656.99 251.90 656.09 252.90 656.25 253.90 656.19 254.90 656.11 255.90 657.14 256.90 656.20 257.90 656.11 258.90 656.11 259.90 656.22 260.90 656.34 261.90 656.33 262.90 656.27 263.90 656.71 264.90 656.31 265.90 656.24 266.90 657.08 267.90 656.35 268.90 656.91 269.90 656.32 270.90 656.76 271.90 656.10 272.90 656.19 273.90 656.32 274.90 656.19 275.90 657.04 276.90 656.85 277.90 656.06 278.90 656.26 279.90 656.34 280.90 656.27 281.90 656.29 282.90 656.83 283.75 656.20 283.75 566.85 283.76 665.50 284.05 656.20 284.90 656.23 285.90 656.05 287.00 656.20 287.00 634.35 287.01 660.00 287.30 656.20 287.90 656.29 288.90 656.06 289.90 656.89 290.90 656.24 291.90 656.20 292.90 657.24 293.90 657.05 294.90 656.97 295.90 656.23 296.90 656.26 297.90 656.07 298.90 656.07 299.90 656.17 300.90 657.09 301.90 656.26 302.90 656.09 303.90 656.84 304.90 656.94 305.90 656.29 306.90 656.24 307.90 657.29 308.90 656.73 309.90 656.12 310.90 656.12 311.90 656.33 312.90 656.33 313.90 657.15 314.90 656.08 315.90 657.18 316.90 656.10 317.90 656.08 318.90 656.32 319.90 656.05 320.90 656.22 321.90 656.20 322.90 656.23 323.90 657.03 324.90 656.14 325.90 656.05 326.90 656.06 327.90 656.29 328.90 656.09 329.90 656.11 330.90 656.08 331.90 656.21 332.90 656.08 333.90 656.30 334.90 656.08 335.90 656.14 336.90 656.09 337.90 656.34 338.90 656.77 339.90 656.26 340.90 656.21 341.90 656.17 342.90 656.24 343.90 656.27 344.90 656.32 345.90 657.11 346.90 656.30 347.90 657.27 348.90 656.18 349.90 656.13 350.90 656.15 351.90 656.08 352.90 656.34 353.90 656.33 354.90 656.30 355.90 656.28 356.90 656.12 357.90 657.23 358.90 656.33 359.90 656.28 360.90 656.32 361.90 657.20 362.90 656.14 363.90 656.16 364.90 657.02 365.90 656.24 366.90 656.33 367.90 656.32 368.90 656.83 369.90 656.14 370.90 656.05 371.75 656.20 371.75 653.60 371.76 680.50 372.05 656.20 372.90 656.26 373.90 656.10 374.90 656.26 375.90 656.27 376.90 656.12 377.90 656.06 378.90 656.20 378.90 641.85 378.91 656.00 379.20 656.20 379.90 656.11 380.90 656.34 381.90 656.23 382.90 656.23 383.90 656.74 384.90 656.05 385.90 657.00 386.90 656.34 387.90 656.13 388.90 656.88 389.90 656.17 390.90 656.18 391.90 656.08 392.90 656.15 393.90 656.06 394.90 656.12 395.90 656.29 396.90 656.81 397.90 657.10 398.90 656.23 399.90 656.76 400.90 656.34 401.90 656.25 402.90 656.71 403.90 657.28 404.90 656.16 405.90 656.09 407.10 656.20 407.10 653.85 407.11 680.00 407.40 656.20 407.90 656.13 408.90 656.85 409.90 656.29 410.90 656.16 411.90 656.83 412.90 656.17 413.90 656.24 414.90 657.10 415.90 656.72 416.90 656.98 417.90 656.77 418.90 656.84 419.90 656.74 420.90 656.16 421.90 656.33 422.90 657.15 423.90 656.22 424.90 656.34 425.90 656.08 426.90 656.80 427.90 656.75 428.90 656.13 429.90 656.19 430.90 656.07 431.90 657.10 432.90 657.29 433.90 656.71 434.90 656.25 435.90 656.06 436.90 656.27 437.90 656.12 438.90 656.23 439.90 656.09 440.90 656.33 442.00 656.20 442.00 613.10 442.01 665.50 442.30 656.20 442.90 656.31 443.90 656.84 444.90 656.23 445.90 656.72 446.90 656.81 447.90 656.27 448.90 656.33 449.90 657.27 450.90 656.12 451.90 656.20 452.90 656.20 453.90 657.20 454.90 656.11 456.25 656.20 456.25 638.10 456.26 685.75 456.55 656.20 456.90 657.28 457.90 656.15 458.90 656.15 459.40 656.20 459.40 616.85 459.41 657.50 459.70 656.20 459.90 656.06 460.90 656.10 461.90 656.05 462.90 656.13 463.90 656.22 464.90 656.77 465.90 656.78 466.90 656.21 467.90 656.84 468.90 656.10 469.90 656.19 470.90 656.32 471.90 656.31 472.90 656.13 473.90 657.25 474.90 656.87 475.90 656.14 476.90 656.31 477.90 656.21 478.90 656.29 479.90 656.85 480.90 656.25 481.90 656.29 482.90 656.75 483.90 656.32 484.90 656.10 485.90 656.92 486.90 656.21 487.90 656.07 488.90 656.24 489.90 656.25 490.90 656.05 491.90 656.25 492.90 657.28 493.90 656.96 494.90 656.95 495.90 656.34 496.90 656.12 497.90 656.16 498.90 656.83 499.90 656.11 500.90 656.94 501.90 657.05 502.90 656.33 503.90 656.16 504.90 656.99 505.90 656.06 506.90 656.10 507.90 656.34 508.90 656.30 509.90 656.24 510.90 657.16 511.90 656.14 512.90 656.30 513.90 656.30 514.90 656.71 515.90 656.21 516.90 656.70 517.90 656.10 518.90 656.86 519.90 656.26 520.90 657.26 521.90 656.90 522.90 656.21 523.90 656.18 524.90 656.75 525.90 657.07 526.90 656.26 527.90 656.29 528.90 656.15 529.90 656.11 530.90 656.79 531.90 656.26 532.90 657.18 533.90 657.05 534.90 656.11 535.90 656.29 537.25 656.20 537.25 577.60 537.26 657.50 537.55 656.20 537.90 657.10 538.90 656.82 539.90 657.08 540.90 656.12 541.90 656.18 542.90 657.13 543.90 656.12 544.90 656.24 545.90 656.23 546.90 656.11 548.00 656.20 548.00 652.35 548.01 660.75 548.30 656.20 548.90 656.25 549.90 657.16 550.90 656.30 551.90 656.34 552.90 656.14 553.90 657.07 554.90 657.01 555.90 656.10 556.90 656.31 557.90 657.00 558.90 656.21 559.90 656.26 560.90 656.74 561.90 656.17 562.90 656.13 563.90 656.12 564.90 656.19 565.90 656.28 566.90 656.18 567.90 656.33 568.90 656.08 569.90 656.24 570.90 656.06 571.90 656.98 572.90 656.24 573.90 656.07 574.90 656.28 576.00 656.20 576.00 637.60 576.01 666.25 576.30 656.20 576.90 656.08 577.90 656.08 578.90 656.07 579.90 656.76 580.90 657.02 581.90 656.80 582.90 656.28 583.90 656.85 584.90 656.86 585.90 656.27 586.90 656.32 587.90 656.34 588.90 656.14 589.90 656.26 590.90 657.27 591.90 656.08 592.90 656.85 593.90 656.19 594.90 656.09 595.90 657.15 596.90 656.95 597.90 656.30 598.90 657.16 599.90 656.23 600.90 656.34 601.90 656.30 602.90 656.13 603.90 656.16 604.90 656.84 605.90 656.32 606.90 656.24 607.90 657.25 608.90 656.29 609.90 656.27 610.90 656.29 611.90 656.25 612.90 657.02 613.90 656.15 614.90 656.15 615.90 656.30 616.90 656.09 617.90 656.27 618.90 657.22 619.90 656.21 620.90 656.15 621.90 656.20 621.90 598.60 621.91 662.50 622.20 656.20 622.90 656.28 623.90 656.11 624.90 656.90 625.90 656.06 626.90 656.74 627.90 656.98 628.90 656.17 629.90 656.34 630.90 656.24 631.90 656.19 632.75 656.20 632.75 651.60 632.76 662.50 633.05 656.20 633.90 656.27 634.90 656.31 635.90 656.08 636.90 656.30 637.90 656.20 638.90 656.31 639.90 656.11 640.90 656.16 641.90 657.25 642.90 656.06 643.90 656.18 644.90 657.01 645.90 656.30 646.90 657.15 647.90 657.23 648.90 656.35 649.90 656.16 650.90 656.88 651.90 656.15 652.90 656.11 653.90 656.20 654.90 656.09 655.90 656.35 656.90 657.25 657.90 656.22 658.90 656.31 659.90 656.71 660.90 656.20 661.90 656.32 662.90 656.20 663.90 657.08 664.90 656.29 665.90 656.23 666.90 656.13 667.90 656.20 668.90 656.90 669.90 656.27 670.90 656.12 671.90 657.06 672.90 657.05 673.90 656.27 674.90 656.26 675.90 656.13 676.90 657.27 677.90 656.74 678.90 656.29 679.90 656.09 680.90 656.24 681.90 656.15 682.90 656.80 683.90 656.17 684.90 656.83 685.90 656.89 686.90 656.99 687.90 656.18 688.90 656.20 689.90 657.06 690.90 656.74 691.90 656.26 692.90 656.17 693.90 656.18 694.90 656.26 695.90 656.10 696.90 657.21 697.90 656.27 698.90 656.24 699.90 656.17 700.90 656.14 701.90 656.25 702.90 656.92 703.90 656.31 704.90 656.23 705.90 656.15 706.90 656.21 707.90 657.24 708.90 656.89 709.75 656.20 709.75 633.60 709.76 665.75 710.05 656.20 710.90 656.19 711.90 656.16 712.90 656.15 713.90 656.33 714.90 656.19 715.90 656.17 716.90 656.29 717.90 656.16 718.90 656.16 719.90 656.21 720.90 656.15 721.90 656.10 722.90 656.74 723.90 656.84 724.90 656.07 725.90 656.27 726.90 656.32 727.90 656.22 728.90 656.08 729.90 657.15 730.90 656.31 731.90 656.08 732.90 656.28 733.90 656.73 734.90 657.12 735.90 656.80 736.90 656.10 737.90 656.25 738.90 656.16 739.90 656.18 740.90 657.28 741.90 656.35 742.90 656.79 743.90 656.16 744.90 656.07 745.90 656.96 746.90 656.29 747.90 656.19 748.90 656.23 749.90 656.17 750.90 656.31 751.90 656.81 752.90 656.16 753.90 656.05 754.90 656.29 755.90 656.05 756.90 656.17 757.90 656.22 758.90 656.17 759.90 656.34 760.90 656.23 761.90 656.16 762.90 656.32 763.90 656.20 763.90 616.10 763.91 660.00 766.00 656.20 766.00 579.85 766.01 733.00 766.30 656.20 766.90 656.29 767.90 656.35 768.90 656.15 769.90 656.13 770.90 656.10 771.90 656.20 772.90 657.26 773.90 657.16 774.90 656.22 775.90 656.23 776.90 657.17 777.90 656.08 778.90 656.08 779.90 656.18 780.90 656.13 781.90 657.00 782.90 657.09 783.90 656.13 784.90 656.33 785.90 656.35 786.90 656.22 787.90 656.28 788.90 656.31 789.90 656.34 790.90 656.09 791.90 656.09 792.90 656.07 793.90 656.21 794.90 656.09 795.90 657.19 796.90 656.06 798.00 656.20 798.00 628.85 798.01 657.50 798.30 656.20 798.90 656.08 799.90 656.98 800.90 656.19 801.90 656.27 802.90 656.78 803.90 656.81 804.90 656.20 805.90 656.10 806.90 656.19 807.90 656.13 808.90 656.12 809.90 656.23 810.90 656.28 811.90 656.21 812.90 657.25 813.90 656.29 814.90 656.98 815.90 656.30 816.90 657.11 817.90 656.22 818.90 656.98 819.90 656.20 820.90 656.16 821.90 656.28 822.90 656.10 823.90 656.16 824.90 657.05 825.90 656.34 826.90 656.21 827.90 656.77 828.90 656.14 829.90 656.22 830.90 656.26 831.90 656.33 832.90 656.21 833.90 656.25 834.90 656.23 835.90 657.28 836.90 657.03 837.90 656.11 838.90 656.09 839.90 656.25 840.90 656.33 841.90 656.25 842.90 656.96 843.90 656.34 844.90 656.95 845.90 656.32 846.90 656.82 847.90 656.10 848.90 656.08 849.90 656.13 850.90 656.20 851.90 656.34 852.90 657.20 853.90 657.15 854.90 656.92 855.90 656.25 856.90 656.35 857.90 656.24 858.90 656.10 859.90 656.22 860.90 656.32 861.90 656.79 862.90 656.23 863.90 656.10 864.90 656.22 865.90 656.17 866.90 656.95 867.90 656.12 868.90 656.12 869.90 656.99 870.90 656.17 871.90 657.10 872.90 656.30 873.90 656.20 874.90 656.74 875.65 656.20 875.65 629.85 875.66 659.25 875.95 656.20 876.90 656.07 877.90 656.08 878.90 656.18 879.90 656.20 880.90 656.88 881.90 656.15 882.85 656.20 882.85 632.60 882.86 660.50 883.15 656.20 883.90 656.26 884.90 656.77 885.90 656.30 886.90 656.10 887.90 656.07 888.90 657.15 889.90 656.27 890.90 656.10 891.90 656.18 892.90 656.08 893.90 656.94 894.90 657.11 895.90 656.35 896.90 656.13 897.90 656.12 898.90 656.26 899.90 657.03 900.90 656.35 901.90 656.08 902.90 657.10 903.90 656.20 904.90 656.14 905.90 656.29 906.90 656.09 907.90 656.09 908.90 656.26 909.90 657.13 910.90 656.89 911.90 656.07 912.90 656.27 913.90 656.26 914.90 656.26 915.90 656.34 916.90 657.14 917.90 656.31 918.90 656.10 919.90 656.93 920.90 656.73 921.90 656.16 922.90 656.35 923.90 656.32 924.90 656.31 925.90 656.34 926.90 656.33 927.90 656.11 928.90 656.19 929.90 656.16 930.90 656.87 931.90 656.20 932.90 656.18 933.90 656.11 934.90 656.13 935.90 656.26 936.90 657.26 937.90 656.20 938.90 656.14 939.90 656.26 940.90 656.19 941.90 656.11 942.90 656.16 943.90 656.16 944.90 656.84 945.90 656.29 946.90 656.25 947.90 656.26 948.90 656.07 949.90 656.06 950.90 656.21 951.90 656.34 952.90 656.12 953.90 656.08 954.90 656.27 955.90 656.16" stroke="#1f77b4" stroke-width="1.7" fill="none" stroke-linejoin="round" stroke-linecap="square"/>
<rect x="69.5" y="558.5" width="930.0" height="184.0" fill="none" stroke="#000" stroke-width="1.11"/>
<path d="M111.5 742.5V747.7M195.5 742.5V747.7M280.5 742.5V747.7M364.5 742.5V747.7M449.5 742.5V747.7M534.5 742.5V747.7M618.5 742.5V747.7M703.5 742.5V747.7M787.5 742.5V747.7M872.5 742.5V747.7M956.5 742.5V747.7M69.5 570.5H64.64M69.5 613.5H64.64M69.5 656.5H64.64M69.5 700.5H64.64" stroke="#000" stroke-width="1.11" fill="none"/>
<text x="58.8" y="576.10" font-size="13.889" text-anchor="end">10</text>
<text x="58.8" y="619.30" font-size="13.889" text-anchor="end">5</text>
<text x="58.8" y="662.50" font-size="13.889" text-anchor="end">0</text>
<text x="58.8" y="705.70" font-size="13.889" text-anchor="end">−5</text>
<text transform="translate(533.8 550.25) scale(1 1.08)" font-size="16.667" text-anchor="middle">Up displacement</text>
<text transform="translate(30.3 652.0) rotate(-90)" font-size="13.889" text-anchor="middle">Disp.</text>
<text x="110.80" y="762.82" font-size="13.889" letter-spacing="-0.075" text-anchor="middle">2024-12-03</text>
<text x="195.34" y="762.82" font-size="13.889" letter-spacing="-0.075" text-anchor="middle">2024-12-04</text>
<text x="279.89" y="762.82" font-size="13.889" letter-spacing="-0.075" text-anchor="middle">2024-12-05</text>
<text x="364.44" y="762.82" font-size="13.889" letter-spacing="-0.075" text-anchor="middle">2024-12-06</text>
<text x="448.98" y="762.82" font-size="13.889" letter-spacing="-0.075" text-anchor="middle">2024-12-07</text>
<text x="533.52" y="762.82" font-size="13.889" letter-spacing="-0.075" text-anchor="middle">2024-12-08</text>
<text x="618.07" y="762.82" font-size="13.889" letter-spacing="-0.075" text-anchor="middle">2024-12-09</text>
<text x="702.62" y="762.82" font-size="13.889" letter-spacing="-0.075" text-anchor="middle">2024-12-10</text>
<text x="787.16" y="762.82" font-size="13.889" letter-spacing="-0.075" text-anchor="middle">2024-12-11</text>
<text x="871.70" y="762.82" font-size="13.889" letter-spacing="-0.075" text-anchor="middle">2024-12-12</text>
<text x="956.25" y="762.82" font-size="13.889" letter-spacing="-0.075" text-anchor="middle">2024-12-13</text>
<text x="533.4" y="782.7" font-size="13.889" text-anchor="middle">Time (UTC)</text>
</svg></body></html>
